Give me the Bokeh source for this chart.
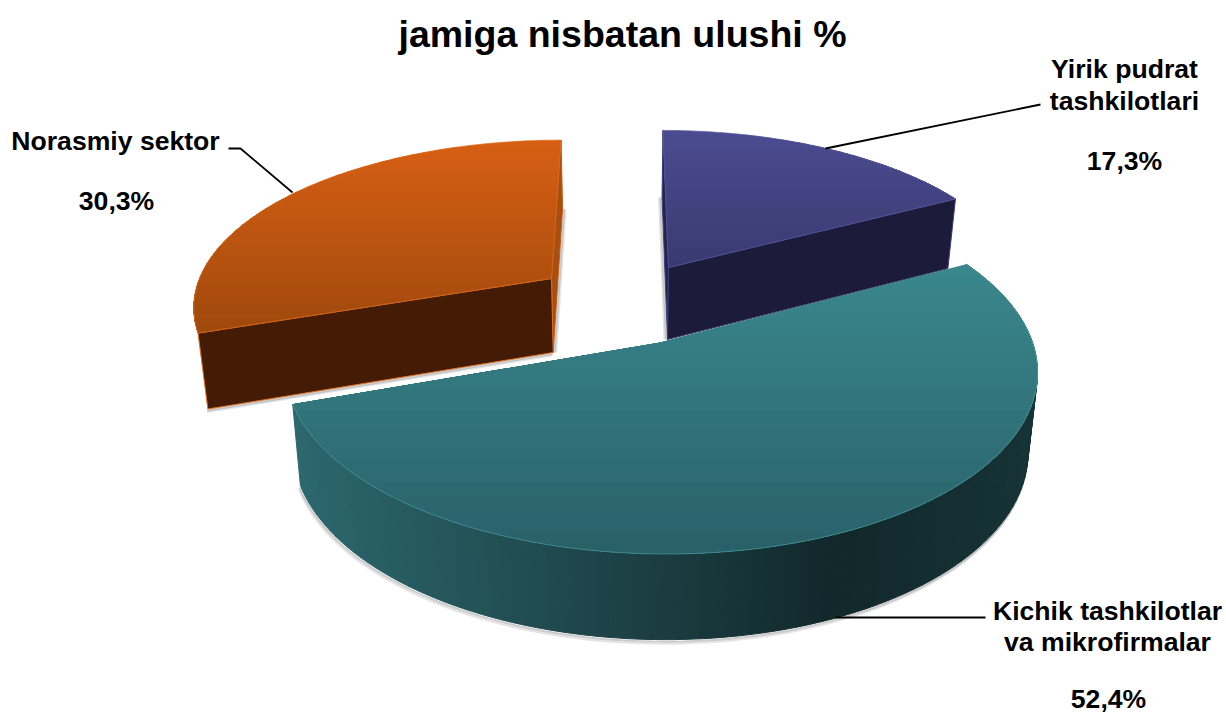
import math
from bokeh.plotting import figure
from bokeh.embed import file_html
from bokeh.resources import INLINE
from bokeh.core.properties import value

TITLE = "jamiga nisbatan ulushi %"
names = ["Yirik pudrat\ntashkilotlari", "Kichik tashkilotlar\nva mikrofirmalar", "Norasmiy sektor"]
shares = [17.3, 52.4, 30.3]
pct_labels = ["17,3%", "52,4%", "30,3%"]

# layout of the projected slices (page pixels)
VX, P, SHRINK = 625.0, 0.149, 0.977
geom = [dict(ax=668, ay=267, R=350, k=157.5, d=72), dict(ax=660, ay=342, R=372, k=180, d=79),
        dict(ax=551, ay=278, R=352, k=159, d=74)]
top_cols = [("#4b4b90", "#3a3a72"), ("#39878c", "#2a6169"), ("#d65f14", "#a0490d")]
cut_cols = ["#1c1c3a", "#12282b", "#441c06"]
edge_cols = ["#5a5aa0", "#4a9a9f", "#e0701f"]

p = figure(width=1226, height=713, x_range=(0, 1226), y_range=(713, 0), output_backend="svg",
           toolbar_location=None, min_border=0, outline_line_color=None, background_fill_color="white")
p.axis.visible = False
p.grid.visible = False


def hex2(c):
    return [int(c[i:i + 2], 16) for i in (1, 3, 5)]


def mix(a, b, t):
    a, b = hex2(a), hex2(b)
    return "#%02x%02x%02x" % tuple(round(a[i] + (b[i] - a[i]) * t) for i in range(3))


def proj(g, th, low=False):
    X, Y = math.sin(th), math.cos(th)
    s = 1 / (1 + P * Y)
    x = VX + (g["ax"] - VX + g["R"] * X) * s
    y = g["ay"] - g["k"] * Y * s
    if low:
        x = VX + (x - VX) * SHRINK
        y += g["d"] * math.sqrt(s)
    return x, y


def apex(g, low=False):
    return (VX + (g["ax"] - VX) * (SHRINK if low else 1), g["ay"] + (g["d"] if low else 0))


def clip_below(poly, y0):
    out = []
    for i in range(len(poly)):
        a, b = poly[i], poly[(i + 1) % len(poly)]
        if a[1] >= y0:
            out.append(a)
        if (a[1] >= y0) != (b[1] >= y0):
            t = (y0 - a[1]) / (b[1] - a[1])
            out.append((a[0] + (b[0] - a[0]) * t, y0))
    return out


def arc(a0, a1, n=90):
    return [a0 + (a1 - a0) * i / n for i in range(n + 1)]


def add(polys, cols, lines=None, width=1):
    p.patches([[q[0] for q in f] for f in polys], [[q[1] for q in f] for f in polys], fill_color=cols,
              line_color=lines if lines else cols, line_width=width)


total = sum(shares)
bounds = [0.0]
for v in shares:
    bounds.append(bounds[-1] + v / total * 2 * math.pi)


def top_face(i, closed=True):
    g = geom[i]
    rim = [proj(g, t) for t in arc(bounds[i], bounds[i + 1], 120)]
    poly = [apex(g)] + rim
    ymin, ymax = min(q[1] for q in poly), max(q[1] for q in poly)
    n = 28
    polys, cols = [], []
    for j in range(n):
        y0 = ymin + (ymax - ymin) * j / n
        c = clip_below(poly, y0)
        if len(c) > 2:
            polys.append(c)
            cols.append(mix(top_cols[i][0], top_cols[i][1], j / (n - 1)))
    p.patches([[q[0] for q in f] for f in polys], [[q[1] for q in f] for f in polys], fill_color=cols, line_color=None)
    pts = [apex(g)] + rim + [apex(g)] if closed else rim
    p.line([q[0] for q in pts], [q[1] for q in pts], line_color=edge_cols[i], line_width=1, line_alpha=0.7)


def cut_face(i, th, col, edge):
    g = geom[i]
    add([[apex(g), proj(g, th), proj(g, th, True), apex(g, True)]], [col], [edge])


def soft_edge(pts, dx, dy):
    for f, alpha in ((1.0, 0.16), (0.5, 0.3)):
        p.line([q[0] + dx * f for q in pts], [q[1] + dy * f for q in pts], line_color="#555555",
               line_width=2, line_alpha=alpha)


def teal_side():
    g = geom[1]
    ts = arc(bounds[2], bounds[1], 110)
    polys, cols = [], []
    for a, b in zip(ts[:-1], ts[1:]):
        A, B = proj(g, a), proj(g, b)
        polys.append([A, B, proj(g, b, True), proj(g, a, True)])
        x = (A[0] + B[0]) / 2
        if x < 835:
            t = (x - 292) / (835 - 292)
            cols.append(mix("#2c686e", "#12282b", t))
        else:
            t = min(1, (x - 835) / 200)
            cols.append(mix("#12282b", "#163336", t))
    add(polys, cols)


# shadows and back faces
g0, g1, g2 = geom
soft_edge([proj(g0, bounds[0], True), apex(g0, True)], -3, 0)
soft_edge([proj(g2, bounds[3], True), apex(g2, True)], 3, 0)
soft_edge([apex(g2, True), proj(g2, bounds[2], True)], -1, 3)
cut_face(0, bounds[0], "#24244c", "#3c3c78")
cut_face(0, bounds[1], cut_cols[0], "#3c3c78")
top_face(0)
cut_face(2, bounds[3], "#a84f10", "#c05a18")
cut_face(2, bounds[2], cut_cols[2], edge_cols[2])
top_face(2)
soft_edge([proj(g1, t, True) for t in arc(bounds[2], bounds[1])], -1.5, 4)
teal_side()
top_face(1, closed=False)

# leaders
for xs, ys in (([825, 1040], [148, 104]), ([292, 240, 228], [192, 148, 148]), ([835, 985], [617, 617])):
    p.line(xs, ys, line_color="black", line_width=1.8)

FONT = value("Liberation Sans")


def label(x, y, s, size):
    p.text([x], [y], text=[s], text_font=FONT, text_font_style="bold", text_font_size=size, text_color="black",
           text_align="center", text_baseline="middle")


label(622, 33, TITLE, "37.5px")
for (x, y), s in zip([(1124, 68), (1107, 610), (115, 140)], [n.split("\n")[0] for n in names]):
    label(x, y, s, "26.6px")
for (x, y), s in zip([(1124, 100), (1107, 641)], [n.split("\n")[1] for n in names[:2]]):
    label(x, y, s, "26.6px")
for (x, y), s in zip([(1124, 160), (1108, 698), (116, 200)], pct_labels):
    label(x, y, s, "26.6px")

open("out.html", "w").write(file_html(p, INLINE))
